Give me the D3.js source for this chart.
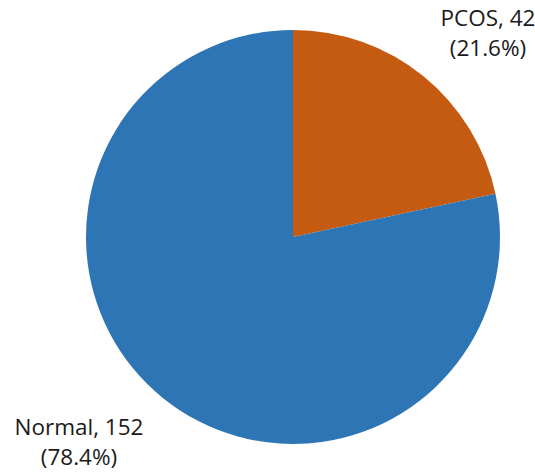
<!DOCTYPE html>
<html>
<head>
<meta charset="utf-8">
<script src="https://cdn.jsdelivr.net/npm/d3@7"></script>
<style>
  html, body { margin: 0; padding: 0; background: #fff; }
  svg { display: block; }
  text { font-family: "Open Sans", "Noto Sans", sans-serif; fill: #1a1a1a; }
</style>
</head>
<body>
<script>
// Group sizes
const categories = ["PCOS", "Normal"];
const counts = [42, 152];
const percents = ["21.6%", "78.4%"];
const colors = ["#C55A11", "#2E75B6"];

const W = 535, H = 475;
const cx = 293, cy = 237, R = 207;

const svg = d3.select("body").append("svg")
  .attr("width", W).attr("height", H);

const pie = d3.pie().sort(null).value(d => d.count);
const data = categories.map((c, i) => ({ name: c, count: counts[i], pct: percents[i], color: colors[i] }));
const arcs = pie(data);
const arc = d3.arc().innerRadius(0).outerRadius(R);

const g = svg.append("g").attr("transform", `translate(${cx},${cy})`);
g.selectAll("path").data(arcs).join("path")
  .attr("d", arc)
  .attr("fill", d => d.data.color);

// Labels placed outside the pie
const labelPos = [
  { x: 488, y: 26 },
  { x: 79, y: 435 }
];
const lineGap = 29.5;
const fontSize = 22.5;
const labels = svg.selectAll("g.lbl").data(arcs).join("g").attr("class", "lbl");
labels.append("text")
  .attr("x", (d, i) => labelPos[i].x)
  .attr("y", (d, i) => labelPos[i].y)
  .attr("text-anchor", "middle")
  .attr("font-size", fontSize)
  .text(d => `${d.data.name}, ${d.data.count}`);
labels.append("text")
  .attr("x", (d, i) => labelPos[i].x)
  .attr("y", (d, i) => labelPos[i].y + lineGap)
  .attr("text-anchor", "middle")
  .attr("font-size", fontSize)
  .text(d => `(${d.data.pct})`);
</script>
</body>
</html>
